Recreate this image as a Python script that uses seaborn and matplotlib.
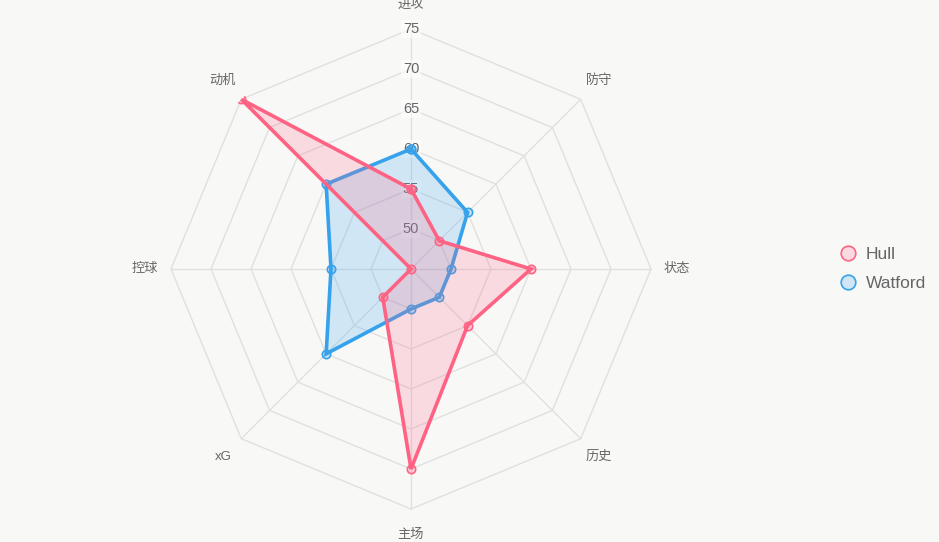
import numpy as np
import pandas as pd
import seaborn as sns
import matplotlib.pyplot as plt
from matplotlib.lines import Line2D

# radar data
categories = ['进攻', '防守', '状态', '历史', '主场', 'xG', '控球', '动机']
hull = [55, 50, 60, 55, 70, 50, 45, 75]
watford = [60, 55, 50, 50, 50, 60, 55, 60]
ticks = [50, 55, 60, 65, 70, 75]
r_min, r_max = 45, 75

sns.set_style('white')
plt.rcParams['font.family'] = ['Liberation Sans', 'Noto Sans CJK SC']

bg = '#f8f8f7'
grid_col = '#e0e0e0'
text_col = '#666666'
pink = '#ff6384'
blue = '#36a2eb'

fig = plt.figure(figsize=(9.39, 5.42), dpi=100, facecolor=bg)
ax = fig.add_axes([171 / 939, 33 / 542, 480 / 939, 480 / 542], projection='polar')
ax.set_facecolor(bg)
ax.set_theta_zero_location('N')
ax.set_theta_direction(-1)
ax.set_ylim(r_min, r_max)
ax.grid(False)
ax.spines['polar'].set_visible(False)
ax.set_xticks([])
ax.set_yticks([])

angles = np.arange(len(categories)) * 2 * np.pi / len(categories)
closed = np.append(angles, angles[0])

# octagon grid + spokes
for t in ticks:
    ax.plot(closed, [t] * len(closed), color=grid_col, lw=1, zorder=1, clip_on=False)
for a in angles:
    ax.plot([a, a], [r_min, r_max], color=grid_col, lw=1, zorder=1, clip_on=False)

# tick labels on the vertical axis
for t in ticks:
    ax.text(0, t, str(t), ha='center', va='center', fontsize=10.5, color=text_col, zorder=2,
            bbox=dict(boxstyle='square,pad=0.12', fc='white', ec='none', alpha=0.6))

# category labels (top one nudged in so it isn't cut at the edge)
for a, c in zip(angles, categories):
    r = 78.0 if a == 0 else 78.25
    ax.text(a, r, c, ha='center', va='center', fontsize=9.5, color=text_col, clip_on=False)

df = pd.DataFrame({
    'team': ['Hull'] * len(closed) + ['Watford'] * len(closed),
    'theta': list(closed) * 2,
    'value': hull + [hull[0]] + watford + [watford[0]],
})

# Watford drawn first so Hull sits on top
for i, (team, col) in enumerate([('Watford', blue), ('Hull', pink)]):
    sub = df[df.team == team]
    ax.fill(sub.theta, sub.value, color=col, alpha=0.2, lw=0, zorder=3 + i)
    sns.lineplot(data=sub, x='theta', y='value', sort=False, estimator=None, ax=ax,
                 color=col, lw=2.6, marker='o', markersize=6,
                 markerfacecolor=(*plt.matplotlib.colors.to_rgb(col), 0.25),
                 markeredgecolor=col, markeredgewidth=1.2, solid_joinstyle='miter',
                 legend=False, zorder=3 + i)
ax.set_xlabel('')
ax.set_ylabel('')

handles = [Line2D([], [], ls='none', marker='o', markersize=10.5,
                  markerfacecolor=(*plt.matplotlib.colors.to_rgb(c), 0.2),
                  markeredgecolor=c, markeredgewidth=1.2, label=n)
           for n, c in [('Hull', pink), ('Watford', blue)]]
fig.legend(handles=handles, loc='center left', bbox_to_anchor=(824 / 939, 1 - 269 / 542),
           frameon=False, fontsize=12.5, labelcolor=text_col, handlelength=1,
           handletextpad=0.5, labelspacing=0.83)

fig.savefig('out.png', dpi=100, facecolor=bg)
